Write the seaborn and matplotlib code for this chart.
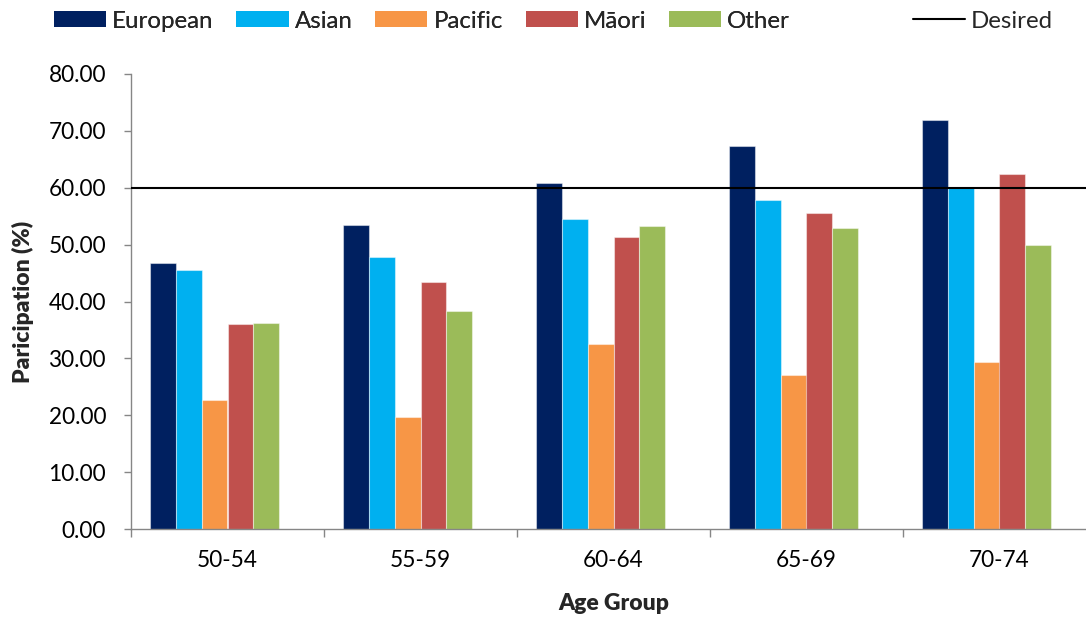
import numpy as np
import pandas as pd
import matplotlib
matplotlib.use("Agg")
import matplotlib.pyplot as plt
from matplotlib.patches import Patch
from matplotlib.lines import Line2D
from matplotlib.ticker import FormatStrFormatter
import seaborn as sns

# Participation by age group and ethnicity (%)
age_groups = ["50-54", "55-59", "60-64", "65-69", "70-74"]
european = [46.8, 53.4, 60.8, 67.3, 71.9]
asian = [45.5, 47.8, 54.5, 57.9, 60.2]
pacific = [22.7, 19.7, 32.5, 27.1, 29.4]
maori = [36.1, 43.4, 51.3, 55.6, 62.5]
other = [36.3, 38.3, 53.3, 52.9, 49.9]
desired = 60.0

ethnicities = ["European", "Asian", "Pacific", "Māori", "Other"]
colors = ["#002060", "#00B0F0", "#F79646", "#C0504D", "#9BBB59"]
y_ticks = [0, 10, 20, 30, 40, 50, 60, 70, 80]

sns.set_style("white")
plt.rcParams["font.family"] = ["Lato", "DejaVu Sans"]

rows = []
for name, vals in zip(ethnicities, [european, asian, pacific, maori, other]):
    for grp, v in zip(age_groups, vals):
        rows.append({"Age Group": grp, "Ethnicity": name, "Participation": v})
df = pd.DataFrame(rows)

fig = plt.figure(figsize=(10.86, 6.19), dpi=100)
ax = fig.add_axes([131 / 1086, 90 / 619, 965 / 1086, 455 / 619])

# sixth slot keeps room for the (line) series, as in a clustered column chart
hue_order = ethnicities + ["Desired"]
palette = dict(zip(ethnicities, colors))
palette["Desired"] = "#000000"
sns.barplot(data=df, x="Age Group", y="Participation", hue="Ethnicity",
            order=age_groups, hue_order=hue_order, palette=palette,
            saturation=1, width=0.8, edgecolor=(1, 1, 1, 0.45), linewidth=0.8,
            errorbar=None, legend=False, ax=ax)

ax.axhline(desired, color="black", lw=1.5, zorder=5)

ax.set_xlim(-0.5, len(age_groups) - 0.5)
ax.set_ylim(0, 80)
ax.set_yticks(y_ticks)
ax.yaxis.set_major_formatter(FormatStrFormatter("%.2f"))

for side in ["top", "right"]:
    ax.spines[side].set_visible(False)
for side in ["left", "bottom"]:
    ax.spines[side].set_color("#868686")
    ax.spines[side].set_linewidth(1.0)

ax.tick_params(axis="y", which="major", direction="out", length=5, width=1,
               color="#868686", pad=13, labelsize=16.3, labelcolor="black", left=True)
ax.set_xticks(np.arange(-0.5, len(age_groups), 1.0), minor=True)
ax.tick_params(axis="x", which="minor", direction="out", length=6, width=1,
               color="#868686", bottom=True)
ax.tick_params(axis="x", which="major", length=0, pad=15, labelsize=16.3,
               labelcolor="black")

ax.set_xlabel("Age Group", fontsize=16.5, fontweight="heavy")
ax.xaxis.set_label_coords((614 - 131) / 965, -0.14)
ax.set_ylabel("Paricipation (%)", fontsize=16.5, fontweight="heavy")
ax.yaxis.set_label_coords((34 - 131) / 965, 0.5)

# legend across the top
bar_handles = [Patch(facecolor=c, edgecolor="none", label=n) for n, c in zip(ethnicities, colors)]
leg1 = fig.legend(handles=bar_handles, loc="center left",
                  bbox_to_anchor=(54 / 1086, 1 - 21 / 619), ncol=5, frameon=False,
                  fontsize=17.3, handlelength=2.17, handleheight=0.62,
                  handletextpad=0.25, columnspacing=0.95, borderpad=0, borderaxespad=0)
fig.add_artist(leg1)
line_handle = [Line2D([], [], color="black", lw=1.5, label="Desired")]
fig.legend(handles=line_handle, loc="center left",
           bbox_to_anchor=(913 / 1086, 1 - 21 / 619), frameon=False,
           fontsize=17.3, handlelength=2.17, handletextpad=0.25,
           borderpad=0, borderaxespad=0)

fig.savefig("out.png", dpi=100)
